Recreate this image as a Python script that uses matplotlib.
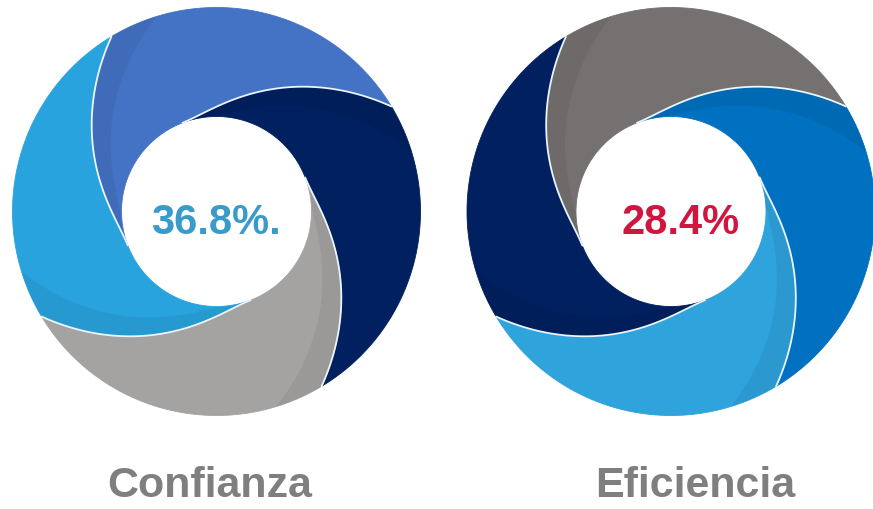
import numpy as np
import matplotlib
matplotlib.use("Agg")
import matplotlib.pyplot as plt
from matplotlib.patches import Polygon

# ---- data ----
chart_titles = ["Confianza", "Eficiencia"]
center_labels = ["36.8%.", "28.4%"]
confianza_shares = [25, 25, 25, 25]
eficiencia_shares = [25, 25, 25, 25]
confianza_colors = ["#4472C4", "#002060", "#A5A2A2", "#29A3DE"]
eficiencia_colors = ["#767171", "#0070C0", "#2EA3DC", "#002060"]
center_colors = ["#3A9BCB", "#D0163E"]

# ---- layout ----
W, H = 873, 510
fig = plt.figure(figsize=(W / 100, H / 100), dpi=100)
ax = fig.add_axes([0, 0, 1, 1])
ax.set_xlim(0, W)
ax.set_ylim(H, 0)
ax.axis("off")

R_OUT, R_IN = 204, 95
DELTA, P = 80, 1.8
START = 121


def spiral(cx, cy, a, n=90):
    t = np.linspace(0, 1, n)
    phi = np.radians(a + DELTA * t)
    r = R_IN + (R_OUT - R_IN) * (1 - t) ** P
    return np.column_stack([cx + r * np.cos(phi), cy - r * np.sin(phi)])


def arc(cx, cy, R, a0, a1, n=120):
    phi = np.radians(np.linspace(a0, a1, n))
    return np.column_stack([cx + R * np.cos(phi), cy - R * np.sin(phi)])


def swirl(cx, cy, shares, colors):
    total = float(sum(shares))
    starts = []
    a = START
    for v in shares:
        starts.append(a)
        a -= 360.0 * v / total
    ends = starts[1:] + [starts[0] - 360]
    for a0, a1, col in zip(starts, ends, colors):
        pts = np.vstack([
            arc(cx, cy, R_OUT, a0, a1),
            spiral(cx, cy, a1),
            arc(cx, cy, R_IN, a1 + DELTA, a0 + DELTA),
            spiral(cx, cy, a0)[::-1],
        ])
        ax.add_patch(Polygon(pts, closed=True, facecolor=col, edgecolor=col,
                             lw=0.6, zorder=2))
        # subtle shadow band along the leading edge of each blade
        b = a0 - 14
        band = np.vstack([
            arc(cx, cy, R_OUT, a0, b),
            spiral(cx, cy, b),
            arc(cx, cy, R_IN, b + DELTA, a0 + DELTA),
            spiral(cx, cy, a0)[::-1],
        ])
        ax.add_patch(Polygon(band, closed=True, facecolor="black", alpha=0.06,
                             edgecolor="none", zorder=3))
    for a0 in starts:
        s = spiral(cx, cy, a0)
        ax.plot(s[:, 0], s[:, 1], color="#EAF5FC", lw=1.3, zorder=4,
                solid_capstyle="round")


centers = [(216.5, 212.5), (671, 212.5)]
swirl(*centers[0], confianza_shares, confianza_colors)
swirl(*centers[1], eficiencia_shares, eficiencia_colors)

font = "Liberation Sans"
ax.text(216, 223, center_labels[0], ha="center", va="center", fontsize=30,
        fontweight="bold", color=center_colors[0], family=font, zorder=5)
ax.text(681, 223, center_labels[1], ha="center", va="center", fontsize=30,
        fontweight="bold", color=center_colors[1], family=font, zorder=5)

ax.text(210, 486, chart_titles[0], ha="center", va="center", fontsize=31,
        fontweight="bold", color="#7F7F7F", family=font)
ax.text(695, 486, chart_titles[1], ha="center", va="center", fontsize=31,
        fontweight="bold", color="#7F7F7F", family=font)

fig.savefig("out.png", dpi=100, facecolor="white")
